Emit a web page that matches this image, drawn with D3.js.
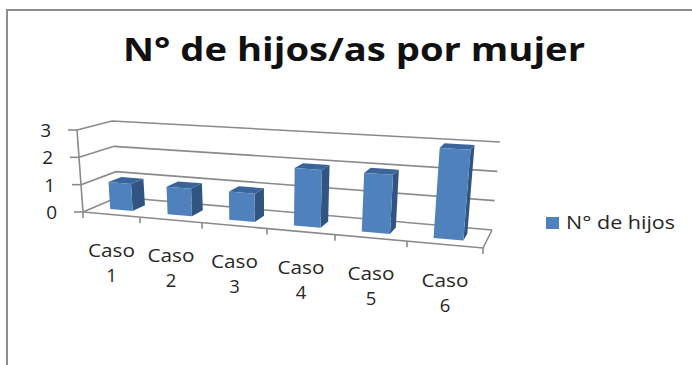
<!DOCTYPE html>
<html>
<head>
<meta charset="utf-8">
<style>
html,body{margin:0;padding:0;background:#fff;overflow:hidden}
svg{display:block}
text{font-family:"Open Sans",sans-serif;fill:#262626}
</style>
<script src="https://cdn.jsdelivr.net/npm/d3@7"></script>
</head>
<body>
<svg id="chart" width="692" height="365"></svg>
<script>
const titleText = "N° de hijos/as por mujer";
const categories = ["Caso 1", "Caso 2", "Caso 3", "Caso 4", "Caso 5", "Caso 6"];
const hijos = [1, 1, 1, 2, 2, 3];
const valueTicks = [0, 1, 2, 3];
const seriesName = "N° de hijos";

const frontColor = "#4f81bd", sideColor = "#315580", topColor = "#3a659b", gridColor = "#8a8a8a";

// Corners of the 3D plot box: [x, y] on screen
const box = {
  frontLeft:  {floor: [83, 212],  top: [77, 130]},
  backLeft:   {floor: [118, 197], top: [112, 121]},
  backRight:  {floor: [492, 230], top: [500, 142]},
  frontRight: {floor: [483, 248], top: [491, 155]}
};

// Perspective foreshortening along the category axis
const uScale = d3.scaleLinear()
  .domain(d3.range(0, 7))
  .range([0, 57, 119, 184, 252, 324, 400].map(d => d / 400));
const vScale = d3.scaleLinear().domain([0, 3]).range([0, 1]);

const mix = (a, b, t) => [a[0] + (b[0] - a[0]) * t, a[1] + (b[1] - a[1]) * t];

// Maps (category position, value, depth) onto the screen
function project(u, value, depth) {
  const t = uScale(u), h = vScale(value);
  const corner = c => mix(c.floor, c.top, h);
  const front = mix(corner(box.frontLeft), corner(box.frontRight), t);
  const back = mix(corner(box.backLeft), corner(box.backRight), t);
  return mix(front, back, depth);
}

const svg = d3.select("#chart");
const poly = d3.line();

// Outer frame, open on the right and bottom
svg.append("path").attr("d", poly([[7, 365], [7, 10], [692, 10]]))
  .attr("fill", "none").attr("stroke", "#8c8c8c").attr("stroke-width", 2);

svg.append("text").attr("x", 354).attr("y", 61).attr("text-anchor", "middle")
  .attr("font-size", 32).attr("font-weight", 700)
  .style("fill", "#111")
  .attr("textLength", 462).attr("lengthAdjust", "spacingAndGlyphs")
  .text(titleText);

// Walls and floor
const grid = svg.append("g").attr("fill", "none").attr("stroke", gridColor).attr("stroke-width", 1.6);
valueTicks.forEach(v => {
  grid.append("path").attr("d", poly([project(0, v, 0), project(0, v, 1), project(6, v, 1)]));
  const a = project(0, v, 0);
  grid.append("path").attr("d", poly([[a[0] - 9, a[1]], a]));
});
grid.append("path").attr("d", poly([project(0, 0, 0), project(0, 3, 0)]));
grid.append("path").attr("d", poly([project(0, 0, 0), project(6, 0, 0), project(6, 0, 1)]));
d3.range(0, 7).forEach(u => {
  const a = project(u, 0, 0);
  grid.append("path").attr("d", poly([a, [a[0], a[1] + 6]]));
});

// Value axis labels
svg.append("g").selectAll("text").data(valueTicks).join("text")
  .attr("x", d => project(0, d, 0)[0] - 26)
  .attr("y", d => project(0, d, 0)[1] + 7)
  .attr("text-anchor", "end").attr("font-size", 19)
  .text(d => d);

// Bars: front, side and top faces
const x0 = 0.3, x1 = 0.7, d0 = 0.3, d1 = 0.68;
const bars = svg.append("g").selectAll("g").data(hijos).join("g");
const face = (color, pts) => (sel) => sel.append("path")
  .attr("fill", color)
  .attr("d", (v, i) => poly(pts(v, i)) + "Z");
bars.call(face(sideColor, (v, i) => [project(i + x1, 0, d0), project(i + x1, v, d0), project(i + x1, v, d1), project(i + x1, 0, d1)]));
bars.call(face(topColor, (v, i) => [project(i + x0, v, d0), project(i + x1, v, d0), project(i + x1, v, d1), project(i + x0, v, d1)]));
bars.call(face(frontColor, (v, i) => [project(i + x0, 0, d0), project(i + x1, 0, d0), project(i + x1, v, d0), project(i + x0, v, d0)]));

// Category labels, wrapped on two lines
const labels = svg.append("g").selectAll("g").data(categories).join("g")
  .attr("transform", (d, i) => {
    const p = project(i + 0.5, 0, 0);
    return `translate(${p[0]},${p[1] + 42})`;
  });
labels.each(function (d) {
  const [word, num] = d.split(" ");
  const g = d3.select(this);
  g.append("text").attr("text-anchor", "middle").attr("font-size", 18.5)
    .attr("textLength", 47).attr("lengthAdjust", "spacingAndGlyphs").text(word);
  g.append("text").attr("y", 25).attr("text-anchor", "middle").attr("font-size", 18.5).text(num);
});

// Legend
svg.append("rect").attr("x", 546).attr("y", 217).attr("width", 13).attr("height", 12).attr("fill", frontColor);
svg.append("text").attr("x", 566).attr("y", 229).attr("font-size", 18)
  .attr("textLength", 109).attr("lengthAdjust", "spacingAndGlyphs").text(seriesName);
</script>
</body>
</html>
